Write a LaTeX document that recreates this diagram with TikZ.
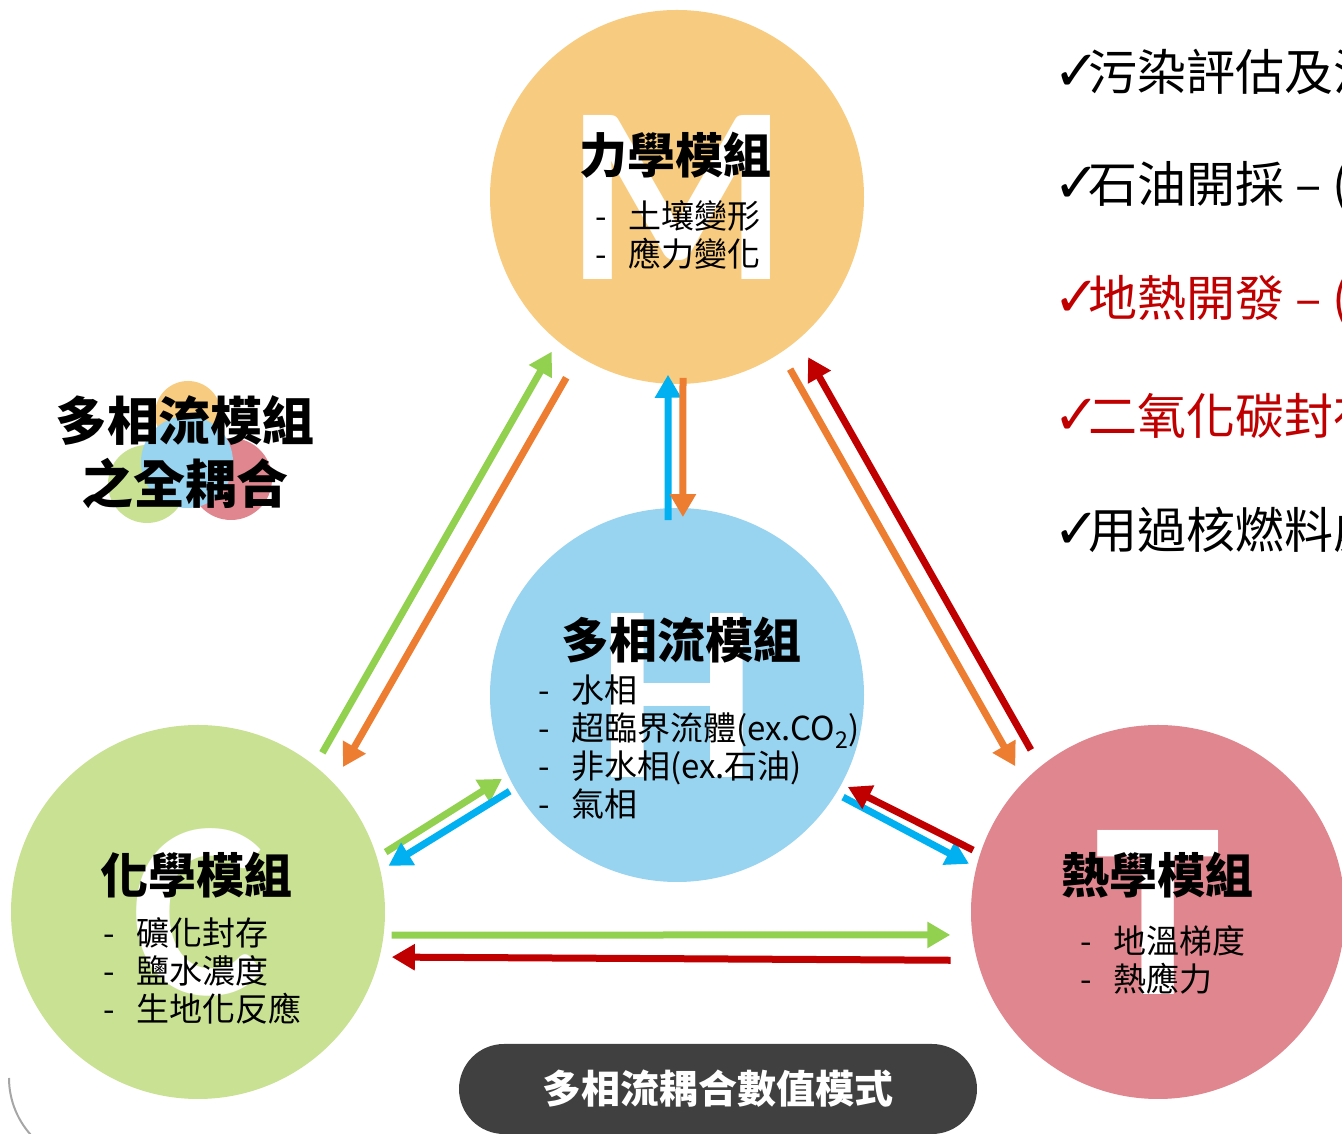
\documentclass[tikz,border=0pt]{standalone}
\usepackage{fontspec}
\setmainfont{Noto Sans CJK TC}
\newfontfamily\letterfont{Carlito}
\newfontfamily\symfont{DejaVu Sans}
\usetikzlibrary{arrows.meta,calc}

\definecolor{mech}{HTML}{F7CB80}
\definecolor{flow}{HTML}{98D4F0}
\definecolor{chem}{HTML}{C9E193}
\definecolor{heat}{HTML}{E0868F}
\definecolor{agreen}{HTML}{92D050}
\definecolor{aorange}{HTML}{ED7D31}
\definecolor{ablue}{HTML}{00B0F0}
\definecolor{ared}{HTML}{C00000}
\definecolor{pill}{HTML}{404040}
\definecolor{arcgray}{HTML}{A6A6A6}

\tikzset{
  module/.style={circle, minimum size=374pt, inner sep=0pt, text=white,
    font=\letterfont\bfseries\fontsize{253}{253}\selectfont},
  title/.style={inner sep=0pt, font=\fontsize{48}{48}\selectfont\bfseries},
  items/.style={anchor=west, align=left, inner sep=0pt, font=\fontsize{33}{38}\selectfont},
  arr/.style={line width=7pt, -{Triangle[length=23pt,width=25pt]}},
  app/.style={anchor=west, inner sep=0pt, font=\fontsize{49}{49}\selectfont},
}
\newcommand{\itm}[1]{\makebox[33pt][l]{-}#1}
\newcommand{\chk}{\makebox[35pt][l]{\symfont\fontsize{56}{56}\selectfont ✓}}

\begin{document}
\begin{tikzpicture}[x=1pt,y=1pt]
  \useasboundingbox (0,0) rectangle (1342,1134);
  \clip (0,0) rectangle (1342,1134);
  % modules
  \node[module, fill=mech] (M) at (677,937) {M};
  \node[module, fill=flow] (H) at (677,439) {H};
  \node[module, fill=chem] (C) at (198,222) {C};
  \node[module, fill=heat] (T) at (1158,222) {T};
  \node[title] (Mt) at (675,979) {力學模組};
  \node[items] (Ml) at (595,899) {\itm{土壤變形}\\\itm{應力變化}};
  \node[title] (Ht) at (681,494) {多相流模組};
  \node[items] (Hl) at (538,387) {\itm{水相}\\\itm{超臨界流體(ex.CO\textsubscript{2})}\\\itm{非水相(ex.石油)}\\\itm{氣相}};
  \node[title] (Ct) at (196,259) {化學模組};
  \node[items] (Cl) at (103,163) {\itm{礦化封存}\\\itm{鹽水濃度}\\\itm{生地化反應}};
  \node[title] (Tt) at (1157,259) {熱學模組};
  \node[items] (Tl) at (1080,174) {\itm{地溫梯度}\\\itm{熱應力}};
  % couplings
  \foreach \col/\a/\p/\b/\q in {agreen/C/52:202/M/231:199, aorange/M/238.5:212/C/45:205,
      ablue/H/92.9:175/M/267.1:178, aorange/M/271.9:181/H/88.1:178,
      aorange/M/303.3:206/T/134.4:204, ared/T/128.1:206/M/309.3:207,
      agreen/C/17.7:197/H/205.6:194, ablue/H/209.9:193/C/13.6:196,
      ablue/H/328.4:195/T/165.7:195, ared/T/161.5:195/H/331.7:194,
      agreen/C/353.2:195/T/186.3:209, ared/T/193.1:213/C/346.9:199}
    \draw[arr, \col] ($(\a)+(\p)$) -- ($(\b)+(\q)$);
  % logo
  \fill[mech] (188,720) circle[radius=33];
  \fill[chem] (147,650) circle[radius=39];
  \fill[heat] (231,655) circle[radius=41];
  \fill[flow] (187,672) circle[radius=46];
  \node[align=center, inner sep=0pt, font=\fontsize{52}{63}\selectfont\bfseries] (logo) at (185,682) {多相流模組\\之全耦合};
  % applications
  \foreach \t/\c [count=\i from 0] in {污染評估及治/black, 石油開採 – (/black, 地熱開發 – (/ared, 二氧化碳封存/ared, 用過核燃料處/black}
    \node[app, text=\c] (app\i) at (1053,1062-114.5*\i) {\chk\t};
  \node[fill=pill, rounded corners=45pt, minimum width=518pt, minimum height=90pt, text=white,
    font=\fontsize{39}{39}\selectfont\bfseries] (mode) at (718,45) {多相流耦合數值模式};
  \draw[arcgray, line width=2pt] (9,56) arc[start angle=180, end angle=225, radius=85];
\end{tikzpicture}
\end{document}
